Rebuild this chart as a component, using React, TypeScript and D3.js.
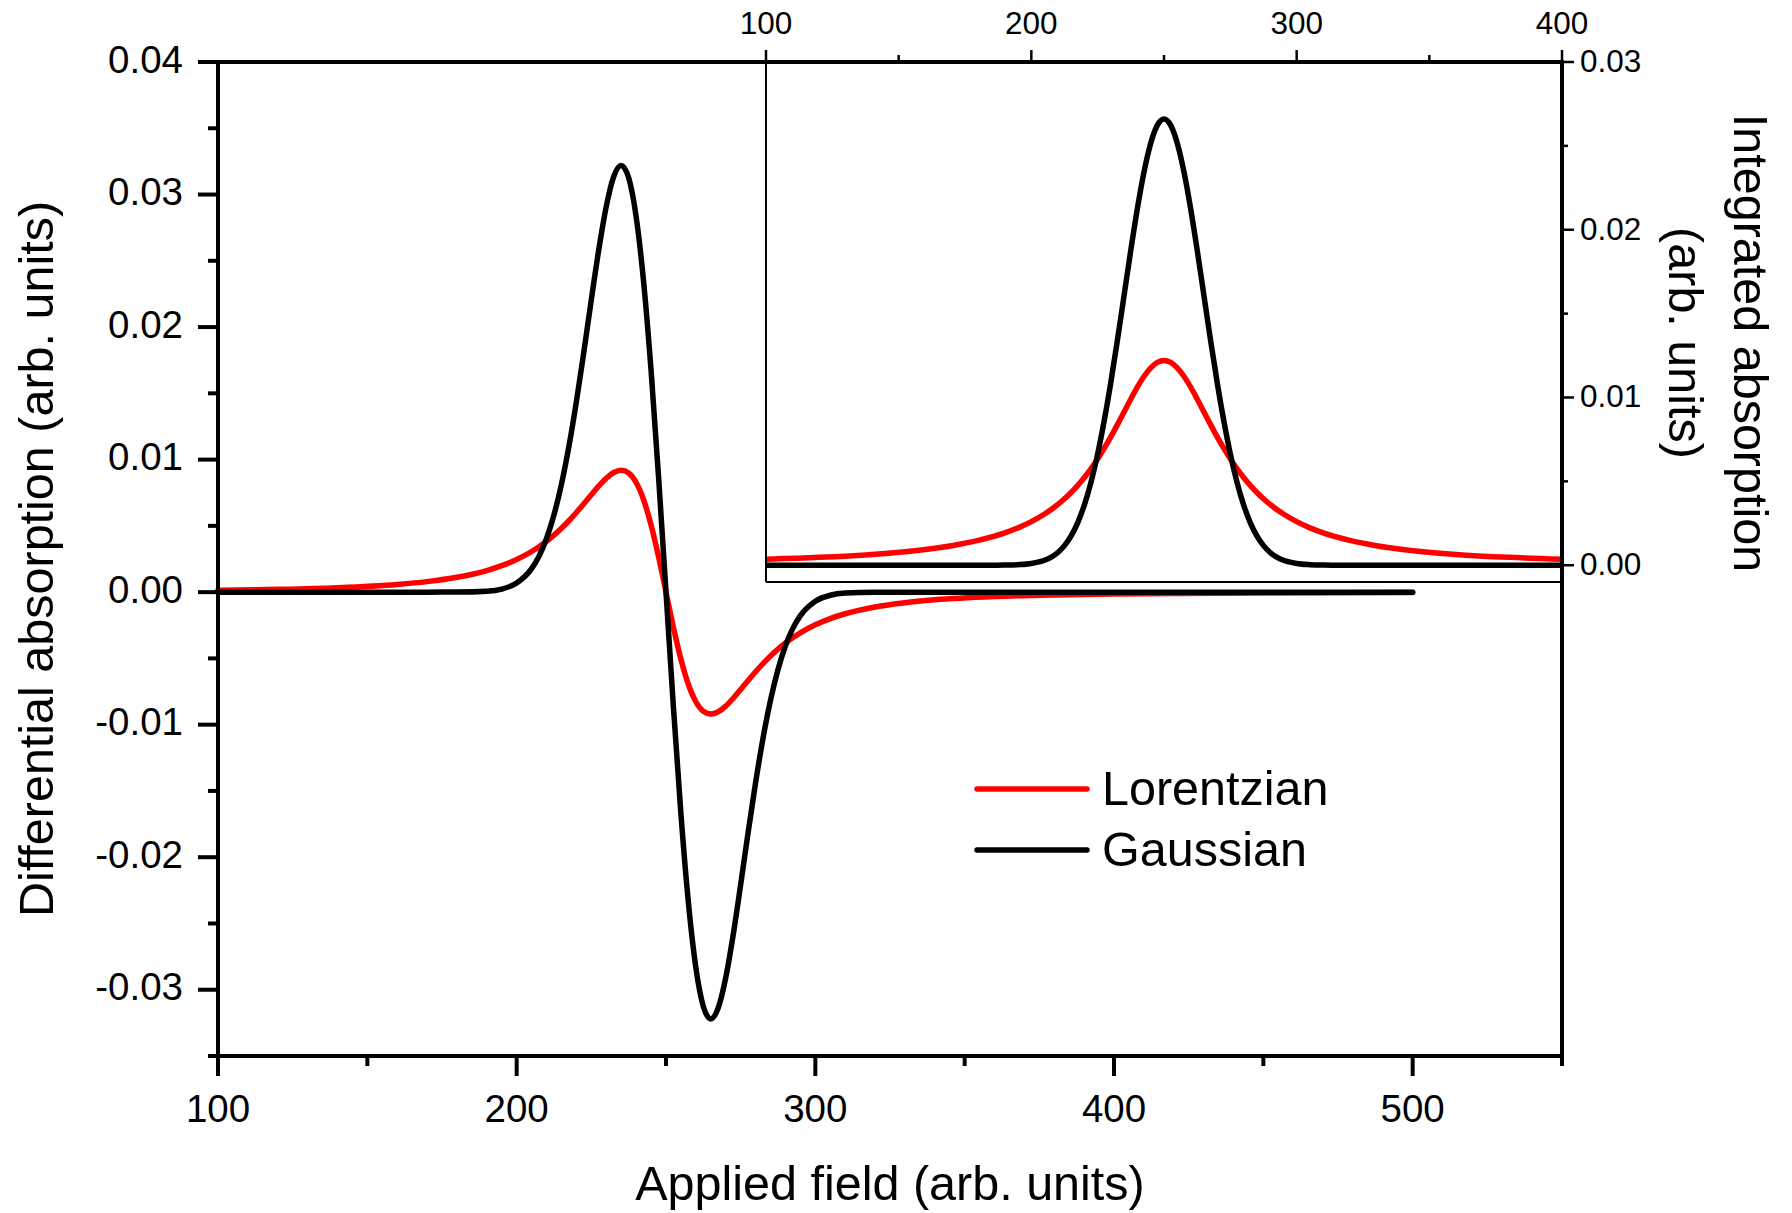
import React from "react";
import * as d3 from "d3";

// ---------- DATA ----------
const fieldMain = [100,120,140,160,170,180,190,195,200,205,207.5,210,212.5,215,217.5,220,222.5,225,227.5,230,232.5,235,237.5,240,242.5,245,247.5,250,252.5,255,257.5,260,262.5,265,267.5,270,272.5,275,277.5,280,282.5,285,287.5,290,292.5,295,300,305,310,320,330,340,360,380,400,420,450,500];

const gaussDeriv = [0,0,0,0,0,0.000005,0.000071,0.000234,0.000684,0.001769,0.002717,0.004044,0.005831,0.008142,0.011000,0.014370,0.018130,0.022063,0.025853,0.029101,0.031361,0.032200,0.031263,0.028340,0.023425,0.016740,0.008726,0,
-0.008726,-0.016740,-0.023425,-0.028340,-0.031263,-0.032200,-0.031361,-0.029101,-0.025853,-0.022063,-0.018130,-0.014370,-0.011000,-0.008142,-0.005831,-0.004044,-0.002717,-0.001769,-0.000684,-0.000234,-0.000071,-0.000005,0,0,0,0,0,0,0,0];

const lorentzDeriv = [0.000139,0.000209,0.000335,0.000581,0.000794,0.001119,0.001631,0.001996,0.002464,0.003067,0.003430,0.003840,0.004301,0.004817,0.005387,0.006008,0.006669,0.007349,0.008011,0.008598,0.009029,0.009200,0.008987,0.008271,0.006968,0.005069,0.002676,0,
-0.002676,-0.005069,-0.006968,-0.008271,-0.008987,-0.009200,-0.009029,-0.008598,-0.008011,-0.007349,-0.006669,-0.006008,-0.005387,-0.004817,-0.004301,-0.003840,-0.003430,-0.003067,-0.002464,-0.001996,-0.001631,-0.001119,-0.000794,-0.000581,-0.000335,-0.000209,-0.000139,-0.000097,-0.000060,-0.000031];

const fieldInset = [100,120,140,160,170,180,190,195,200,205,207.5,210,212.5,215,217.5,220,222.5,225,227.5,230,232.5,235,237.5,240,242.5,245,247.5,250,252.5,255,257.5,260,262.5,265,267.5,270,272.5,275,277.5,280,282.5,285,287.5,290,292.5,295,300,305,310,320,330,340,360,380,400];

const gaussInt = [0,0,0,0,0,0,0.000009,0.000032,0.000103,0.000296,0.000481,0.000760,0.001169,0.001748,0.002544,0.003600,0.004955,0.006633,0.008636,0.010936,0.013469,0.016134,0.018797,0.021300,0.023474,0.025163,0.026233,0.026600,
0.026233,0.025163,0.023474,0.021300,0.018797,0.016134,0.013469,0.010936,0.008636,0.006633,0.004955,0.003600,0.002544,0.001748,0.001169,0.000760,0.000481,0.000296,0.000103,0.000032,0.000009,0,0,0,0,0,0];

const lorentzInt = [0.000356,0.000469,0.000646,0.000940,0.001166,0.001479,0.001929,0.002228,0.002597,0.003053,0.003322,0.003624,0.003961,0.004338,0.004761,0.005233,0.005758,0.006339,0.006976,0.007665,0.008396,0.009153,0.009910,0.010628,0.011263,0.011765,0.012088,0.012200,
0.012088,0.011765,0.011263,0.010628,0.009910,0.009153,0.008396,0.007665,0.006976,0.006339,0.005758,0.005233,0.004761,0.004338,0.003961,0.003624,0.003322,0.003053,0.002597,0.002228,0.001929,0.001479,0.001166,0.000940,0.000646,0.000469,0.000356];

const mainXTicks = [100, 200, 300, 400, 500];
const mainXTickLabels = ["100", "200", "300", "400", "500"];
const mainXMinor = [150, 250, 350, 450, 550];
const mainYTicks = [-0.03, -0.02, -0.01, 0, 0.01, 0.02, 0.03, 0.04];
const mainYTickLabels = ["-0.03", "-0.02", "-0.01", "0.00", "0.01", "0.02", "0.03", "0.04"];
const mainYMinor = [-0.035, -0.025, -0.015, -0.005, 0.005, 0.015, 0.025, 0.035];
const insetXTicks = [100, 200, 300, 400];
const insetXTickLabels = ["100", "200", "300", "400"];
const insetXMinor = [150, 250, 350];
const insetYTicks = [0, 0.01, 0.02, 0.03];
const insetYTickLabels = ["0.00", "0.01", "0.02", "0.03"];
const insetYMinor = [0.005, 0.015, 0.025];

const seriesNames = ["Lorentzian", "Gaussian"];
const seriesColors = ["#ff0000", "#000000"];

const xTitle = "Applied field (arb. units)";
const yTitle = "Differential absorption (arb. units)";
const y2TitleLines = ["Integrated absorption", "(arb. units)"];

// ---------- CHART ----------
const FONT = "'Liberation Sans', Arial, Helvetica, sans-serif";

export default function App() {
  const W = 1792, H = 1213;
  const xMain = d3.scaleLinear().domain([100, 550]).range([218, 1562]);
  const yMain = d3.scaleLinear().domain([-0.035, 0.04]).range([1056, 62]);
  const xIn = d3.scaleLinear().domain([100, 400]).range([766, 1562]);
  const yIn = d3.scaleLinear().domain([-0.001, 0.03]).range([582, 62]);

  const lineMain = (vals: number[]) =>
    d3.line<number>()
      .x((_, i) => xMain(fieldMain[i]))
      .y((d) => yMain(d))
      .curve(d3.curveMonotoneX)(vals) || "";
  const lineIn = (vals: number[]) =>
    d3.line<number>()
      .x((_, i) => xIn(fieldInset[i]))
      .y((d) => yIn(d))
      .curve(d3.curveMonotoneX)(vals) || "";

  const [x0, x1] = xMain.range();
  const [yb, yt] = yMain.range();
  const inL = xIn.range()[0];
  const inB = yIn.range()[0];

  const curveW = 5.5;
  const axisW = 4;

  return (
    <svg width={W} height={H} style={{ position: "absolute", left: 0, top: 0, background: "#fff" }} fontFamily={FONT}>
      <rect x={0} y={0} width={W} height={H} fill="#fff" />

      {/* main curves */}
      <path d={lineMain(lorentzDeriv)} fill="none" stroke={seriesColors[0]} strokeWidth={curveW} strokeLinejoin="round" strokeLinecap="round" />
      <path d={lineMain(gaussDeriv)} fill="none" stroke={seriesColors[1]} strokeWidth={curveW} strokeLinejoin="round" strokeLinecap="round" />

      {/* inset */}
      <rect x={inL} y={yt} width={x1 - inL} height={inB - yt} fill="#fff" />
      <path d={lineIn(lorentzInt)} fill="none" stroke={seriesColors[0]} strokeWidth={curveW} strokeLinejoin="round" />
      <path d={lineIn(gaussInt)} fill="none" stroke={seriesColors[1]} strokeWidth={curveW} strokeLinejoin="round" />
      <line x1={inL} x2={inL} y1={yt} y2={inB} stroke="#000" strokeWidth={2} />
      <line x1={inL} x2={x1} y1={inB} y2={inB} stroke="#000" strokeWidth={2} />

      {/* inset top ticks */}
      {insetXTicks.map((t, i) => (
        <g key={"itx" + t}>
          <line x1={xIn(t)} x2={xIn(t)} y1={yt} y2={yt - 12} stroke="#000" strokeWidth={2.5} />
          <text x={xIn(t)} y={34} fontSize={31.5} textAnchor="middle">{insetXTickLabels[i]}</text>
        </g>
      ))}
      {insetXMinor.map((t) => (
        <line key={"itm" + t} x1={xIn(t)} x2={xIn(t)} y1={yt} y2={yt - 7} stroke="#000" strokeWidth={2.5} />
      ))}
      {/* inset right ticks */}
      {insetYTicks.map((t, i) => (
        <g key={"ity" + t}>
          <line x1={x1} x2={x1 + 12} y1={yIn(t)} y2={yIn(t)} stroke="#000" strokeWidth={2.5} />
          <text x={1580} y={yIn(t) + 10} fontSize={31.5}>{insetYTickLabels[i]}</text>
        </g>
      ))}
      {insetYMinor.map((t) => (
        <line key={"itym" + t} x1={x1} x2={x1 + 6} y1={yIn(t)} y2={yIn(t)} stroke="#000" strokeWidth={2.5} />
      ))}

      {/* main axes frame */}
      <line x1={x0} x2={x0} y1={yt - 2} y2={yb + 2} stroke="#000" strokeWidth={axisW} />
      <line x1={x1} x2={x1} y1={yt - 2} y2={yb + 2} stroke="#000" strokeWidth={axisW} />
      <line x1={x0} x2={x1 + 2} y1={yt} y2={yt} stroke="#000" strokeWidth={axisW} />
      <line x1={x0} x2={x1 + 2} y1={yb} y2={yb} stroke="#000" strokeWidth={axisW} />

      {/* main y ticks */}
      {mainYTicks.map((t, i) => (
        <g key={"my" + t}>
          <line x1={x0 - 20} x2={x0} y1={yMain(t)} y2={yMain(t)} stroke="#000" strokeWidth={axisW} />
          <text x={183} y={yMain(t) + 10.5} fontSize={38.5} textAnchor="end">{mainYTickLabels[i]}</text>
        </g>
      ))}
      {mainYMinor.map((t) => (
        <line key={"mym" + t} x1={x0 - 10} x2={x0} y1={yMain(t)} y2={yMain(t)} stroke="#000" strokeWidth={axisW} />
      ))}

      {/* main x ticks */}
      {mainXTicks.map((t, i) => (
        <g key={"mx" + t}>
          <line x1={xMain(t)} x2={xMain(t)} y1={yb} y2={yb + 20} stroke="#000" strokeWidth={axisW} />
          <text x={xMain(t)} y={1122} fontSize={38.5} textAnchor="middle">{mainXTickLabels[i]}</text>
        </g>
      ))}
      {mainXMinor.map((t) => (
        <line key={"mxm" + t} x1={xMain(t)} x2={xMain(t)} y1={yb} y2={yb + 10} stroke="#000" strokeWidth={axisW} />
      ))}

      {/* titles */}
      <text x={(x0 + x1) / 2} y={1200} fontSize={48.5} textAnchor="middle">{xTitle}</text>
      <text transform={`translate(53, ${(yt + yb) / 2}) rotate(-90)`} fontSize={48.5} textAnchor="middle">{yTitle}</text>
      <text transform={`translate(1734, 343) rotate(90)`} fontSize={48.5} textAnchor="middle">{y2TitleLines[0]}</text>
      <text transform={`translate(1669, 343) rotate(90)`} fontSize={48.5} textAnchor="middle">{y2TitleLines[1]}</text>

      {/* legend */}
      {seriesNames.map((name, i) => (
        <g key={name}>
          <line x1={977} x2={1087} y1={789 + i * 61} y2={789 + i * 61} stroke={seriesColors[i]} strokeWidth={5.5} strokeLinecap="round" />
          <text x={1102} y={805 + i * 61} fontSize={48.5}>{name}</text>
        </g>
      ))}
    </svg>
  );
}
